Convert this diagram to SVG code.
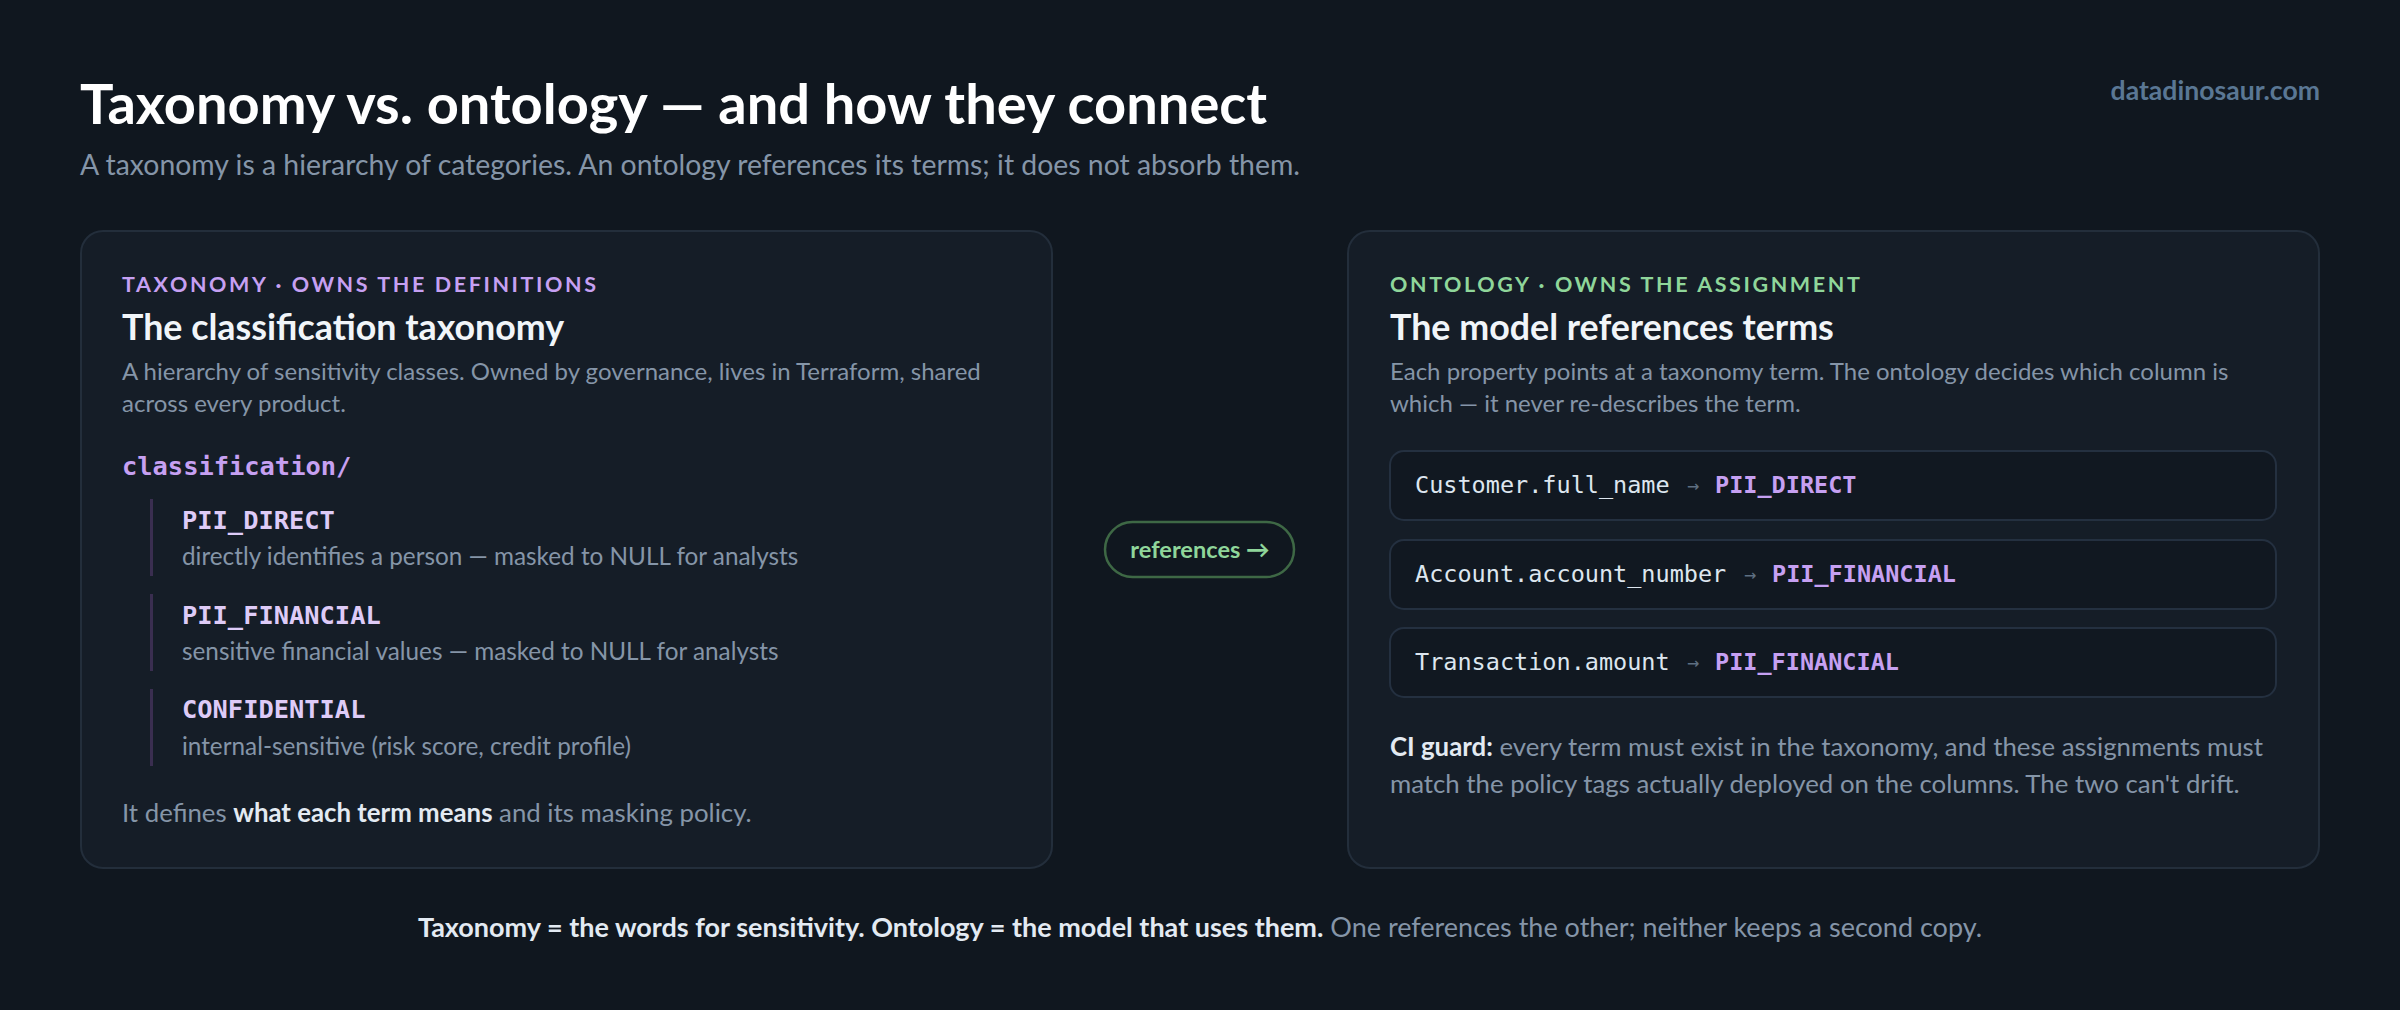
<svg xmlns="http://www.w3.org/2000/svg" width="2400" height="1010" viewBox="0 0 2400 1010">
<style>
.sans{font-family:Lato,"Noto Sans","Liberation Sans",sans-serif}
.mono{font-family:"DejaVu Sans Mono","Liberation Mono",monospace}
.title{font-size:56px;font-weight:700;fill:#ffffff}
.sub{font-size:28.4px;fill:#8595a8}
.brand{font-size:26.6px;font-weight:700;fill:#5a7794}
.panel{fill:#151d27;stroke:#232e3b;stroke-width:2}
.eyebrow{font-size:21.5px;font-weight:700;letter-spacing:2.6px}
.lav{fill:#c6a0f2}
.grn{fill:#8fd69a}
.head{font-size:35.8px;font-weight:700;fill:#f1f5f9}
.desc{font-size:24px;fill:#8595a8}
.item{font-size:24.3px;fill:#8595a8}
.root{font-size:25.4px;font-weight:700;fill:#c6a0f2}
.term{font-size:25.4px;font-weight:700;fill:#decbf7}
.bar{fill:#3a2e50}
.box{fill:#111821;stroke:#243040;stroke-width:2}
.prop{font-size:23.5px;fill:#dde6ef}
.arr{font-size:20px;fill:#5e6f82}
.tag{font-size:23.5px;font-weight:700;fill:#c6a0f2}
.body{font-size:25.8px;fill:#8595a8}
.strong{font-weight:700;fill:#e3eaf2}
.pill{fill:none;stroke:#3e6845;stroke-width:2.5}
.pilltxt{font-size:23.6px;font-weight:700;fill:#8fd69a}
.foot{font-size:27px;fill:#8595a8}
</style>
<rect x="0" y="0" width="2400" height="1010" fill="#10171f"/>

<g id="header">
<text class="sans title" x="80" y="124">Taxonomy vs. ontology — and how they connect</text>
<text class="sans sub" x="80" y="175">A taxonomy is a hierarchy of categories. An ontology references its terms; it does not absorb them.</text>
<text class="sans brand" x="2320" y="100" text-anchor="end">datadinosaur.com</text>
</g>

<g id="taxonomy-panel">
<rect class="panel" x="81" y="231" width="971" height="637" rx="22"/>
<text class="sans eyebrow lav" x="122" y="292">TAXONOMY · OWNS THE DEFINITIONS</text>
<text class="sans head" x="122" y="340">The classification taxonomy</text>
<text class="sans desc" x="122" y="380">A hierarchy of sensitivity classes. Owned by governance, lives in Terraform, shared</text>
<text class="sans desc" x="122" y="412">across every product.</text>
<text class="mono root" x="122" y="475">classification/</text>
<g id="term-pii-direct">
<rect class="bar" x="150" y="499" width="3" height="77"/>
<text class="mono term" x="182" y="529">PII_DIRECT</text>
<text class="sans item" x="182" y="565">directly identifies a person — masked to NULL for analysts</text>
</g>
<g id="term-pii-financial">
<rect class="bar" x="150" y="594" width="3" height="77"/>
<text class="mono term" x="182" y="624">PII_FINANCIAL</text>
<text class="sans item" x="182" y="660">sensitive financial values — masked to NULL for analysts</text>
</g>
<g id="term-confidential">
<rect class="bar" x="150" y="689" width="3" height="77"/>
<text class="mono term" x="182" y="718">CONFIDENTIAL</text>
<text class="sans item" x="182" y="755">internal-sensitive (risk score, credit profile)</text>
</g>
<text class="sans body" x="122" y="822">It defines <tspan class="strong">what each term means</tspan> and its masking policy.</text>
</g>

<g id="connectors">
<rect class="pill" x="1105" y="522" width="189" height="55" rx="27.5"/>
<text class="sans pilltxt" x="1200" y="558" text-anchor="middle">references →</text>
</g>

<g id="ontology-panel">
<rect class="panel" x="1348" y="231" width="971" height="637" rx="22"/>
<text class="sans eyebrow grn" x="1390" y="292">ONTOLOGY · OWNS THE ASSIGNMENT</text>
<text class="sans head" x="1390" y="340">The model references terms</text>
<text class="sans desc" x="1390" y="380">Each property points at a taxonomy term. The ontology decides which column is</text>
<text class="sans desc" x="1390" y="412">which — it never re-describes the term.</text>
<g id="map-full-name">
<rect class="box" x="1390" y="451" width="886" height="69" rx="14"/>
<text class="mono prop" x="1415" y="493">Customer.full_name</text>
<text class="mono arr" x="1693" y="492" text-anchor="middle">→</text>
<text class="mono tag" x="1715" y="493">PII_DIRECT</text>
</g>
<g id="map-account-number">
<rect class="box" x="1390" y="540" width="886" height="69" rx="14"/>
<text class="mono prop" x="1415" y="582">Account.account_number</text>
<text class="mono arr" x="1750" y="581" text-anchor="middle">→</text>
<text class="mono tag" x="1772" y="582">PII_FINANCIAL</text>
</g>
<g id="map-amount">
<rect class="box" x="1390" y="628" width="886" height="69" rx="14"/>
<text class="mono prop" x="1415" y="670">Transaction.amount</text>
<text class="mono arr" x="1693" y="669" text-anchor="middle">→</text>
<text class="mono tag" x="1715" y="670">PII_FINANCIAL</text>
</g>
<text class="sans body" x="1390" y="756"><tspan class="strong">CI guard:</tspan> every term must exist in the taxonomy, and these assignments must</text>
<text class="sans body" x="1390" y="793">match the policy tags actually deployed on the columns. The two can't drift.</text>
</g>

<g id="footer">
<text class="sans foot" x="1200" y="937" text-anchor="middle"><tspan class="strong">Taxonomy = the words for sensitivity. Ontology = the model that uses them.</tspan> One references the other; neither keeps a second copy.</text>
</g>
</svg>
